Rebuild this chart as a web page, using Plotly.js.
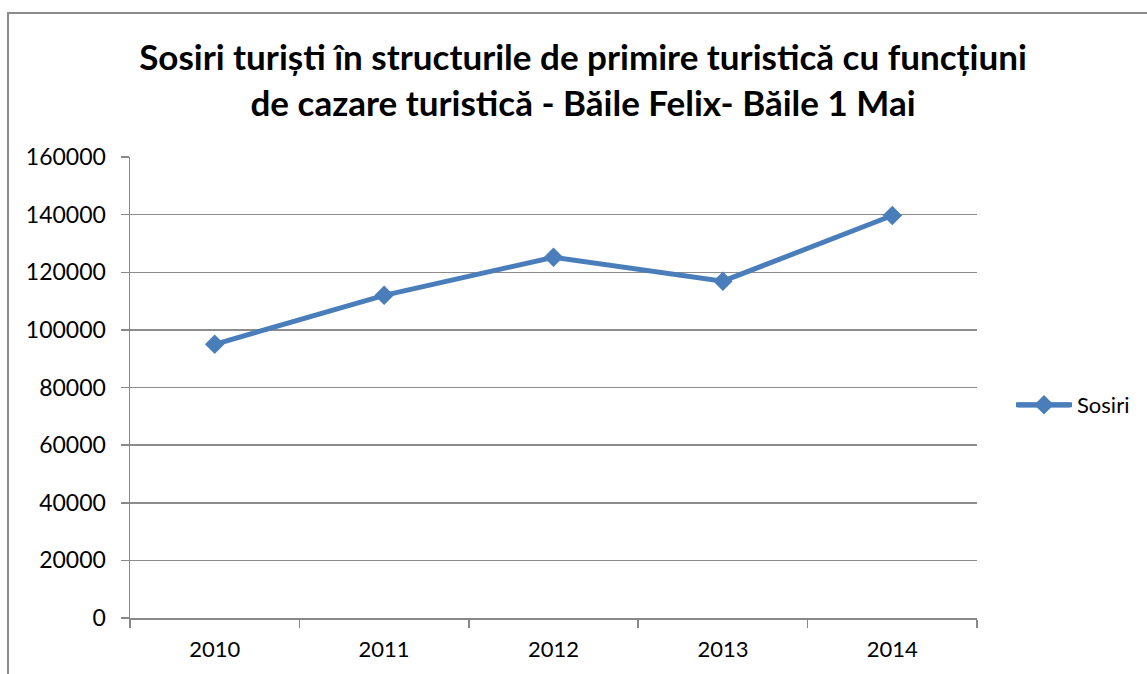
<!DOCTYPE html>
<html>
<head>
<meta charset="utf-8">
<script src="https://cdn.plot.ly/plotly-3.0.1.min.js"></script>
<style>
html,body{margin:0;padding:0;overflow:hidden;background:#fff;}
#frame{position:absolute;left:7px;top:12px;width:1200px;height:720px;border:2px solid #8c8c8c;box-sizing:border-box;}
#chart{position:absolute;left:0;top:0;width:1147px;height:674px;}
</style>
</head>
<body>
<div id="frame"></div>
<div id="chart"></div>
<script>
const years = ['2010', '2011', '2012', '2013', '2014'];
const sosiri = [95000, 112000, 125200, 116900, 139700];
const yTicks = [0, 20000, 40000, 60000, 80000, 100000, 120000, 140000, 160000];
const seriesName = 'Sosiri';
const titleText = 'Sosiri turiști în structurile de primire turistică cu funcțiuni<br>de cazare turistică - Băile Felix- Băile 1 Mai';

const FONT = 'Lato, "Liberation Sans", sans-serif';
const BLUE = '#4a7ebb';

// plot area in pixels: x 130..977, y 157..618
const px = v => (v - 130) / 847;
const py = v => (618 - v) / 461;

const trace = {
  x: years,
  y: sosiri,
  name: seriesName,
  type: 'scatter',
  mode: 'lines+markers',
  line: {color: BLUE, width: 5},
  marker: {symbol: 'diamond', size: 15, color: BLUE}
};

const layout = {
  width: 1147,
  height: 674,
  paper_bgcolor: 'rgba(0,0,0,0)',
  plot_bgcolor: 'rgba(0,0,0,0)',
  margin: {l: 130, r: 170, t: 157, b: 56},
  title: {
    text: titleText,
    font: {family: FONT, size: 35, color: '#000', weight: 'bold'},
    x: 583 / 1147,
    xanchor: 'center',
    xref: 'container',
    yref: 'container',
    y: 1 - 70 / 674,
    yanchor: 'middle'
  },
  showlegend: true,
  legend: {
    x: px(1011),
    xanchor: 'left',
    y: py(405),
    yanchor: 'middle',
    itemwidth: 56,
    font: {family: FONT, size: 22, color: '#000'},
    bgcolor: 'rgba(0,0,0,0)'
  },
  shapes: [{
    type: 'line', xref: 'paper', yref: 'paper',
    x0: px(1018), x1: px(1070), y0: py(405), y1: py(405),
    line: {color: BLUE, width: 5}, layer: 'below'
  }],
  xaxis: {
    type: 'category',
    range: [-0.5, 4.5],
    tickson: 'boundaries',
    ticks: 'outside',
    ticklen: 8,
    tickwidth: 1.5,
    tickcolor: '#888',
    showgrid: false,
    showline: true,
    linecolor: '#888',
    linewidth: 1.5,
    zeroline: false,
    tickfont: {family: FONT, size: 22, color: '#000'},
    ticklabelstandoff: 11,
    fixedrange: true
  },
  yaxis: {
    range: [0, 160000],
    tickvals: yTicks,
    ticktext: yTicks.map(String),
    ticks: 'outside',
    ticklen: 8,
    tickwidth: 1.5,
    tickcolor: '#888',
    showgrid: true,
    gridcolor: '#8c8c8c',
    gridwidth: 1.5,
    showline: true,
    linecolor: '#888',
    linewidth: 1.5,
    zeroline: false,
    tickfont: {family: FONT, size: 23, color: '#000'},
    ticklabelstandoff: 10,
    fixedrange: true
  }
};

Plotly.newPlot('chart', [trace], layout, {displayModeBar: false, staticPlot: true});
</script>
</body>
</html>
